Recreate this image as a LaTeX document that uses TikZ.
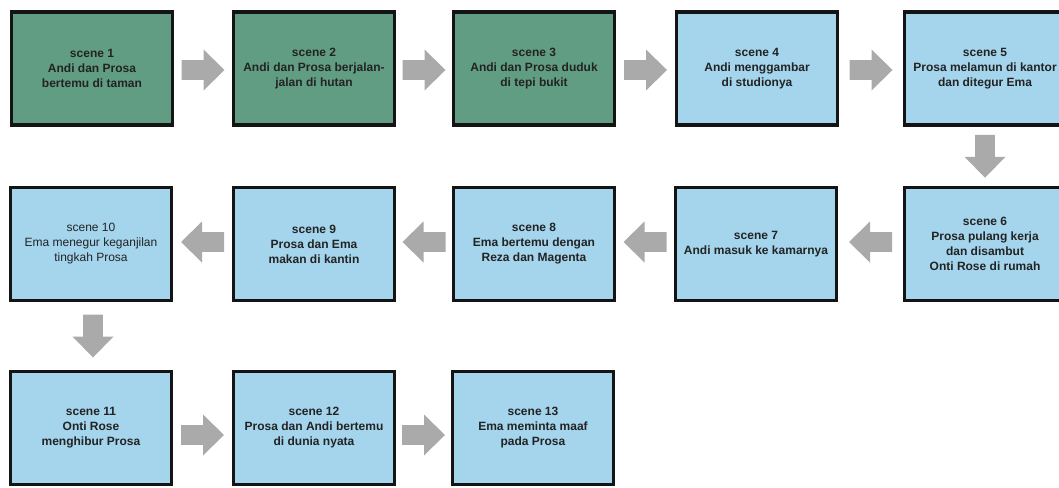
\documentclass[tikz,border=0pt]{standalone}
\usepackage{fontspec}
\setmainfont{Liberation Sans}
\usetikzlibrary{calc}
\definecolor{boxgreen}{RGB}{97,157,131}
\definecolor{boxblue}{RGB}{164,213,237}
\definecolor{arrgray}{RGB}{170,170,170}
\definecolor{txt}{RGB}{35,35,35}
\tikzset{
  scenebox/.style={draw=black!92, line width=3.2pt, minimum width=161pt, minimum height=113pt,
    inner sep=0pt, align=center, text=txt, font=\fontsize{12}{15}\selectfont\bfseries},
  green/.style={scenebox, fill=boxgreen},
  blue/.style={scenebox, fill=boxblue},
  plain/.style={font=\fontsize{12}{15}\selectfont},
  garr/.pic={\fill[arrgray] (-21.5,-9.8) -- (0.5,-9.8) -- (0.5,-20.5) -- (21.5,0) -- (0.5,20.5) -- (0.5,9.8) -- (-21.5,9.8) -- cycle;}
}
\begin{document}
\begin{tikzpicture}[x=1pt,y=-1pt]
\useasboundingbox (0,0) rectangle (1059,487);
\clip (0,0) rectangle (1059,487);
\fill[white] (0,0) rectangle (1059,487);
% row 1
\node[green] (s1) at (92,68.5) {scene 1\\Andi dan Prosa\\bertemu di taman};
\node[green] (s2) at (314,68.5) {scene 2\\Andi dan Prosa berjalan-\\jalan di hutan};
\node[green] (s3) at (534,68.5) {scene 3\\Andi dan Prosa duduk\\di tepi bukit};
\node[blue] (s4) at (757,68.5) {scene 4\\Andi menggambar\\di studionya};
\node[blue] (s5) at (985,68.5) {scene 5\\Prosa melamun di kantor\\dan ditegur Ema};
% row 2
\node[blue] (s6) at (985,244) {scene 6\\Prosa pulang kerja\\dan disambut\\Onti Rose di rumah};
\node[blue] (s7) at (756,244) {scene 7\\Andi masuk ke kamarnya};
\node[blue] (s8) at (534,244) {scene 8\\Ema bertemu dengan\\Reza dan Magenta};
\node[blue] (s9) at (314,244) {scene 9\\Prosa dan Ema\\makan di kantin};
\node[blue, plain] (s10) at (91,244) {scene 10\\Ema menegur keganjilan\\tingkah Prosa};
% row 3
\node[blue] (s11) at (91,428) {scene 11\\Onti Rose\\menghibur Prosa};
\node[blue] (s12) at (314,428) {scene 12\\Prosa dan Andi bertemu\\di dunia nyata};
\node[blue] (s13) at (533,428) {scene 13\\Ema meminta maaf\\pada Prosa};
% arrows
\path ($(s1.east)!0.5!(s2.west)+(0,1.5)$) pic {garr};
\path ($(s2.east)!0.5!(s3.west)+(0,1.5)$) pic {garr};
\path ($(s3.east)!0.5!(s4.west)+(0,1.5)$) pic {garr};
\path ($(s4.east)!0.5!(s5.west)+(0,1.5)$) pic {garr};
\path ($(s5.south)!0.5!(s6.north)$) pic[rotate=-90] {garr};
\path ($(s6.west)!0.5!(s7.east)+(0,-2)$) pic[rotate=180] {garr};
\path ($(s7.west)!0.5!(s8.east)+(0,-2)$) pic[rotate=180] {garr};
\path ($(s8.west)!0.5!(s9.east)+(0,-2)$) pic[rotate=180] {garr};
\path ($(s9.west)!0.5!(s10.east)+(0,-2)$) pic[rotate=180] {garr};
\path ($(s10.south)!0.5!(s11.north)+(2,0)$) pic[rotate=-90] {garr};
\path ($(s11.east)!0.5!(s12.west)+(0,7)$) pic {garr};
\path ($(s12.east)!0.5!(s13.west)+(0,7)$) pic {garr};
\end{tikzpicture}
\end{document}
